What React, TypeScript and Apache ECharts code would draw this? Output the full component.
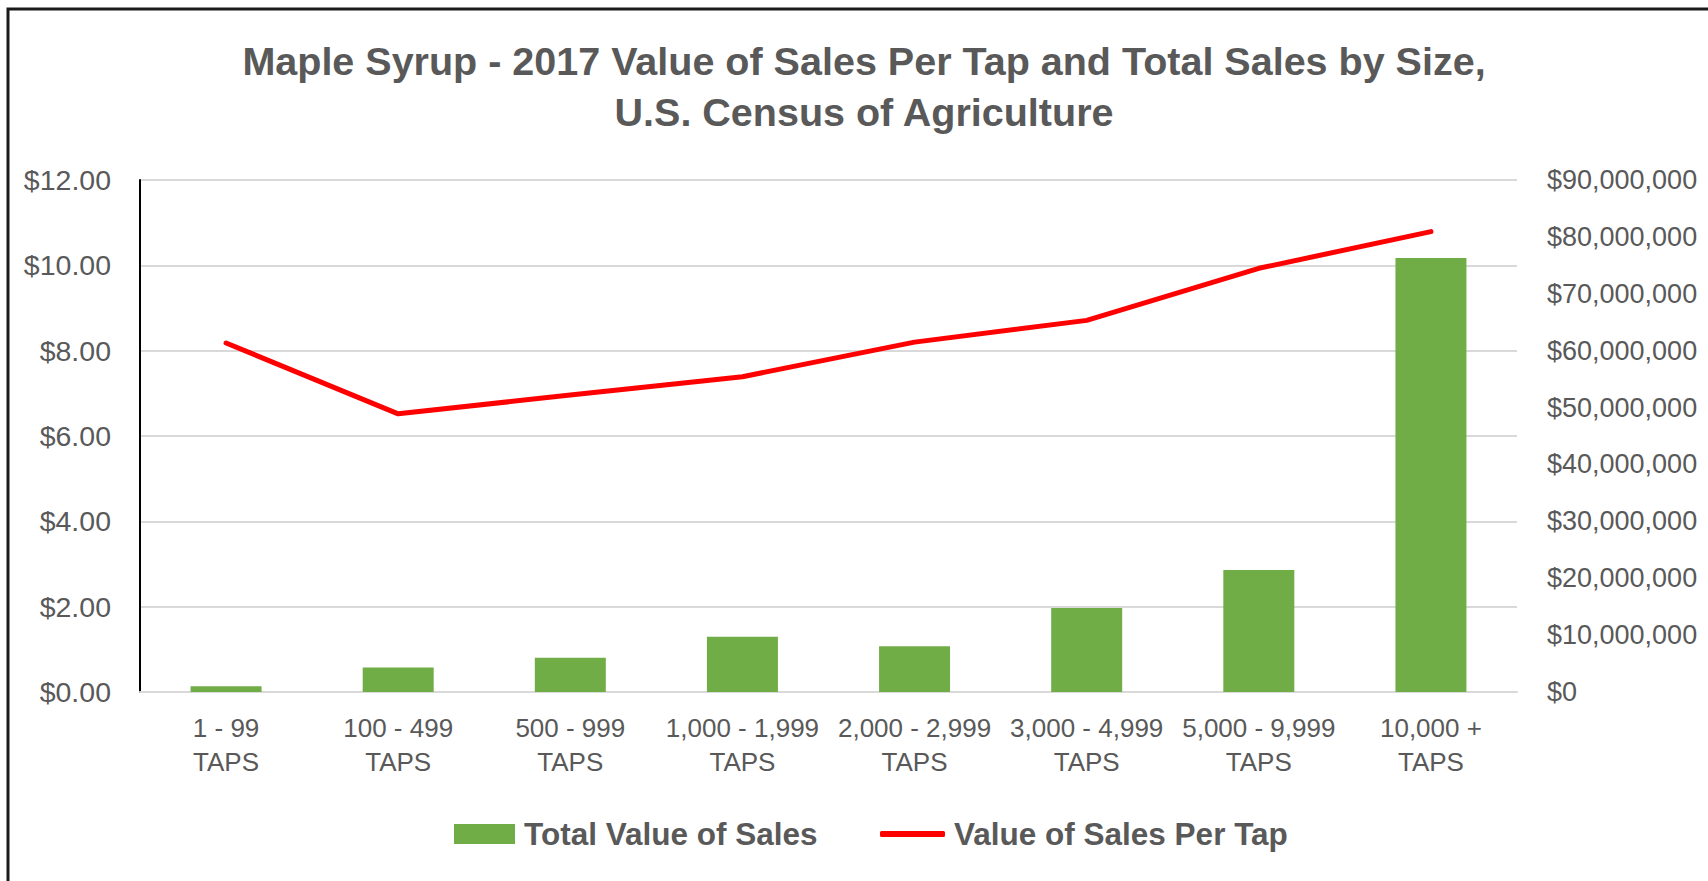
import React, { useEffect, useRef } from "react";
import * as echarts from "echarts";

const titleLines = [
  "Maple Syrup - 2017 Value of Sales Per Tap and Total Sales by Size,",
  "U.S. Census of Agriculture",
];
const categories = [
  "1 - 99\nTAPS",
  "100 - 499\nTAPS",
  "500 - 999\nTAPS",
  "1,000 - 1,999\nTAPS",
  "2,000 - 2,999\nTAPS",
  "3,000 - 4,999\nTAPS",
  "5,000 - 9,999\nTAPS",
  "10,000 +\nTAPS",
];
const totalSales = [1000000, 4300000, 6000000, 9700000, 8050000, 14750000, 21450000, 76300000];
const salesPerTap = [8.18, 6.52, 6.96, 7.39, 8.2, 8.71, 9.93, 10.79];
const seriesNames = ["Total Value of Sales", "Value of Sales Per Tap"];

const FONT = "'Liberation Sans', Arial, sans-serif";
const GREY = "#595959";

export default function App() {
  const ref = useRef<HTMLDivElement>(null);
  useEffect(() => {
    if (!ref.current) return;
    const chart = echarts.init(ref.current, null, { renderer: "svg" });
    const legendText = { fontFamily: FONT, fontSize: 31.5, fontWeight: "bold", color: GREY, padding: [0, 0, 0, 4] };
    chart.setOption({
      animation: false,
      backgroundColor: "#ffffff",
      textStyle: { fontFamily: FONT },
      title: {
        text: titleLines.join("\n"),
        left: 864,
        textAlign: "center",
        top: 35,
        padding: 0,
        textStyle: {
          fontFamily: FONT,
          fontSize: 39.5,
          fontWeight: "bold",
          color: GREY,
          lineHeight: 51,
        },
      },
      legend: [
        {
          left: 454,
          top: 818,
          padding: 0,
          itemWidth: 61,
          itemHeight: 20,
          textStyle: legendText,
          data: [{ name: seriesNames[0], icon: "rect" }],
        },
        {
          left: 880,
          top: 818,
          padding: 0,
          itemWidth: 65,
          itemHeight: 6,
          textStyle: legendText,
          data: [{ name: seriesNames[1], icon: "roundRect" }],
        },
      ],
      grid: { left: 140, right: 191, top: 180, bottom: 189, containLabel: false },
      xAxis: {
        type: "category",
        data: categories,
        boundaryGap: true,
        axisLine: { show: true, lineStyle: { color: "#D9D9D9", width: 2 } },
        axisTick: { show: false },
        axisLabel: {
          interval: 0,
          color: GREY,
          fontFamily: FONT,
          fontSize: 26,
          lineHeight: 34,
          margin: 19,
        },
      },
      yAxis: [
        {
          type: "value",
          min: 0,
          max: 12,
          interval: 2,
          position: "left",
          axisLine: { show: true, lineStyle: { color: "#000000", width: 2 } },
          axisTick: { show: false },
          splitLine: { show: true, lineStyle: { color: "#D9D9D9", width: 2 } },
          axisLabel: {
            color: GREY,
            fontFamily: FONT,
            fontSize: 28.5,
            margin: 29,
            formatter: (v: number) => "$" + v.toFixed(2),
          },
        },
        {
          type: "value",
          min: 0,
          max: 90000000,
          interval: 10000000,
          position: "right",
          axisLine: { show: false },
          axisTick: { show: false },
          splitLine: { show: false },
          axisLabel: {
            color: GREY,
            fontFamily: FONT,
            fontSize: 27,
            margin: 30,
            formatter: (v: number) => "$" + v.toLocaleString("en-US"),
          },
        },
      ],
      series: [
        {
          name: seriesNames[0],
          type: "bar",
          yAxisIndex: 1,
          data: totalSales,
          barWidth: 71,
          itemStyle: { color: "#70AD47" },
        },
        {
          name: seriesNames[1],
          type: "line",
          yAxisIndex: 0,
          data: salesPerTap,
          symbol: "none",
          showSymbol: false,
          lineStyle: { color: "#FF0000", width: 5, cap: "round", join: "round" },
          itemStyle: { color: "#FF0000" },
          z: 5,
        },
      ],
      graphic: [
        {
          type: "polyline",
          shape: { points: [[8, 881], [8, 9], [1708, 9]] },
          style: { stroke: "#1a1a1a", lineWidth: 3, fill: "none" },
          silent: true,
        },
      ],
    });
    return () => chart.dispose();
  }, []);
  return (
    <div style={{ position: "fixed", left: 0, top: 0, width: 1708, height: 881, background: "#fff" }}>
      <div ref={ref} style={{ width: 1708, height: 881 }} />
    </div>
  );
}
